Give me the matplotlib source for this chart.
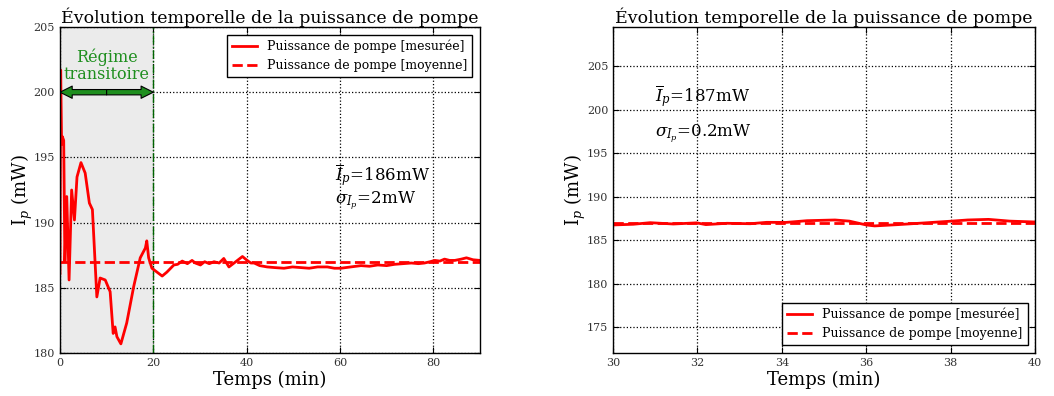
"""
Évolution temporelle de la puissance de pompe — régime complet et zoom 30-40 min.
"""

import matplotlib
matplotlib.use("Agg")
import matplotlib.pyplot as plt
from matplotlib.patches import FancyArrowPatch, ArrowStyle

plt.rcParams["font.family"] = ["DejaVu Serif"]
plt.rcParams["mathtext.fontset"] = "dejavuserif"

# ---- données ----
t_full = [0.0, 0.15, 0.35, 0.5, 0.8, 1.05, 1.45, 1.95, 2.5, 3.1,
          3.65, 4.5, 5.4, 6.3, 6.95, 7.9, 8.6, 9.7, 10.75, 11.4,
          11.8, 12.2, 13.05, 14.3, 15.8, 17.2, 18.3, 18.6, 19.0, 19.7,
          20.8, 21.9, 22.9, 24.4, 25.2, 26.2, 27.3, 28.3, 29.0, 30.1,
          31.0, 32.0, 33.0, 34.1, 35.1, 36.2, 37.3, 38.2, 39.1, 40.1,
          40.9, 41.6, 42.8, 44.4, 46.0, 48.0, 49.8, 51.6, 53.4, 55.2,
          57.3, 58.8, 60.2, 62.3, 64.5, 66.3, 68.1, 70.0, 71.7, 73.5,
          75.3, 76.8, 78.1, 79.3, 80.3, 81.4, 82.4, 83.5, 84.6, 86.0,
          87.1, 88.5, 90.0]
p_full = [186.1, 201.7, 196.0, 196.6, 196.3, 187.0, 192.0, 185.6, 192.5, 190.2,
          193.5, 194.6, 193.8, 191.5, 191.0, 184.3, 185.75, 185.6, 184.7, 181.5,
          182.0, 181.25, 180.7, 182.3, 185.1, 187.3, 188.05, 188.6, 187.3, 186.5,
          186.2, 185.9, 186.2, 186.75, 186.8, 187.05, 186.85, 187.1, 186.9, 186.75,
          187.0, 186.85, 187.0, 186.9, 187.25, 186.6, 186.9, 187.15, 187.4, 187.1,
          186.9, 186.9, 186.7, 186.6, 186.55, 186.5, 186.6, 186.55, 186.5, 186.6,
          186.6, 186.5, 186.5, 186.6, 186.7, 186.65, 186.75, 186.7, 186.8, 186.85,
          186.9, 186.85, 186.9, 187.0, 187.1, 187.05, 187.2, 187.1, 187.1, 187.2,
          187.3, 187.15, 187.1]
p_full_mean = 187.0

t_zoom = [30.0, 30.48, 30.88, 31.43, 31.98, 32.2, 32.7, 33.25, 33.64, 34.1,
          34.6, 35.26, 35.6, 36.0, 36.2, 36.76, 37.4, 38.03, 38.4, 38.9,
          39.4, 40.0]
p_zoom = [186.76, 186.84, 187.02, 186.87, 187.0, 186.8, 186.95, 186.9, 187.06,
          187.05, 187.25, 187.33, 187.2, 186.76, 186.65, 186.8, 187.0, 187.2,
          187.33, 187.4, 187.2, 187.1]
p_zoom_mean = 187.0

title = "Évolution temporelle de la puissance de pompe"
lbl_mes = "Puissance de pompe [mesurée]"
lbl_moy = "Puissance de pompe [moyenne]"
vert = "#1f8f1f"


def style_axes(ax):
    ax.grid(True, color="black", linestyle=":", linewidth=0.9)
    ax.tick_params(direction="in", top=True, right=True, labelsize=8,
                   labelcolor="#333333", length=4)
    for s in ax.spines.values():
        s.set_linewidth(1.0)
    ax.set_xlabel("Temps (min)", fontsize=13, labelpad=2)
    ax.set_ylabel("I$_p$ (mW)", fontsize=13, labelpad=-1)
    ax.set_title(title, fontsize=12.5, pad=3)


fig = plt.figure(figsize=(10.54, 3.96), dpi=100)

# ---- gauche : enregistrement complet ----
ax1 = fig.add_axes([0.0569, 0.1086, 0.3985, 0.8232])
ax1.axvspan(0, 20, color="#ebebeb", zorder=0)
ax1.axvline(20, color="darkgreen", linestyle="-.", linewidth=1.0)
ax1.plot(t_full, p_full, color="red", linewidth=2, label=lbl_mes)
ax1.axhline(p_full_mean, color="red", linestyle="--", linewidth=2, label=lbl_moy)
fleche = ArrowStyle("Simple", head_length=0.8, head_width=0.8, tail_width=0.35)
for end in (0, 20):
    ax1.add_patch(FancyArrowPatch((10, 200), (end, 200), arrowstyle=fleche,
                                  mutation_scale=11, facecolor=vert,
                                  edgecolor="black", linewidth=0.8,
                                  shrinkA=0, shrinkB=0, zorder=4))
ax1.text(10, 202.0, "Régime\ntransitoire", color=vert, ha="center",
         va="center", fontsize=11.5, linespacing=1.0)
ax1.text(59, 193.6, r"$\overline{I}_p$=186mW", fontsize=12, va="center")
ax1.text(59, 191.7, r"$\sigma_{I_p}$=2mW", fontsize=12, va="center")
ax1.set_xlim(0, 90)
ax1.set_ylim(180, 205)
ax1.set_xticks([0, 20, 40, 60, 80])
ax1.set_yticks([180, 185, 190, 195, 200, 205])
style_axes(ax1)
leg1 = ax1.legend(loc="upper right", fontsize=9, fancybox=False,
                  edgecolor="black", framealpha=1, borderaxespad=0.6)
leg1.get_frame().set_linewidth(1.0)

# ---- droite : zoom 30-40 min ----
ax2 = fig.add_axes([0.5816, 0.1086, 0.4004, 0.8232])
ax2.plot(t_zoom, p_zoom, color="red", linewidth=2, label=lbl_mes)
ax2.axhline(p_zoom_mean, color="red", linestyle="--", linewidth=2, label=lbl_moy)
ax2.text(31.0, 201.45, r"$\overline{I}_p$=187mW", fontsize=12, va="center")
ax2.text(31.0, 197.26, r"$\sigma_{I_p}$=0.2mW", fontsize=12, va="center")
ax2.set_xlim(30, 40)
ax2.set_ylim(172.07, 209.47)
ax2.set_xticks([30, 32, 34, 36, 38, 40])
ax2.set_yticks([175, 180, 185, 190, 195, 200, 205])
style_axes(ax2)
leg2 = ax2.legend(loc="lower right", fontsize=9, fancybox=False,
                  edgecolor="black", framealpha=1, borderaxespad=0.6)
leg2.get_frame().set_linewidth(1.0)

fig.savefig("out.png", dpi=100)
plt.close(fig)
